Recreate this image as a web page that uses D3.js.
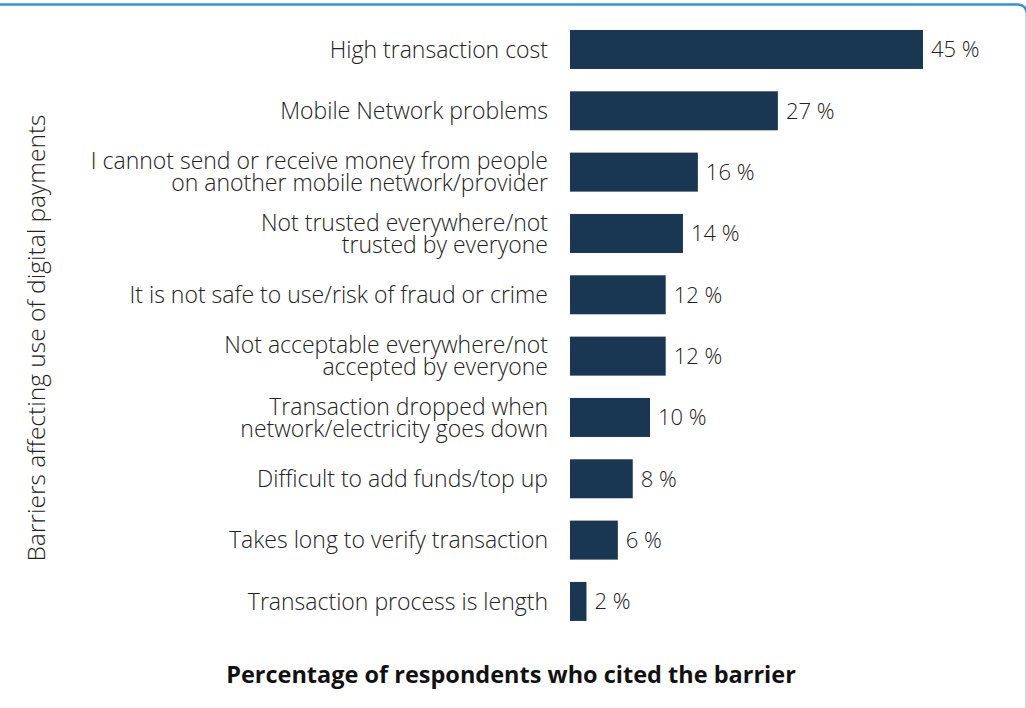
<!DOCTYPE html>
<html>
<head>
<meta charset="utf-8">
<script src="https://cdn.jsdelivr.net/npm/d3@7"></script>
<style>
html,body{margin:0;padding:0;background:#fff;}
svg{display:block;}
text{font-family:"Open Sans",sans-serif;}
</style>
</head>
<body>
<svg id="chart" width="1026" height="708"></svg>
<script>
const categories = [
  ["High transaction cost"],
  ["Mobile Network problems"],
  ["I cannot send or receive money from people", "on another mobile network/provider"],
  ["Not trusted everywhere/not", "trusted by everyone"],
  ["It is not safe to use/risk of fraud or crime"],
  ["Not acceptable everywhere/not", "accepted by everyone"],
  ["Transaction dropped when", "network/electricity goes down"],
  ["Difficult to add funds/top up"],
  ["Takes long to verify transaction"],
  ["Transaction process is length"]
];
const values = [45, 26.5, 16.3, 14.4, 12.2, 12.2, 10.2, 8.0, 6.1, 2.1];
const valueLabels = ["45 %", "27 %", "16 %", "14 %", "12 %", "12 %", "10 %", "8 %", "6 %", "2 %"];
const xTitle = "Percentage of respondents who cited the barrier";
const yTitle = "Barriers affecting use of digital payments";

const svg = d3.select("#chart");
const W = 1026, H = 708;

// frame border (rounded, top edge visible)
svg.append("rect")
  .attr("x", -12).attr("y", 4.5)
  .attr("width", W + 13).attr("height", H + 20)
  .attr("rx", 9)
  .attr("fill", "none")
  .attr("stroke", "#2f93dc")
  .attr("stroke-width", 2.6);

const ids = categories.map((c, i) => i);
const y = d3.scaleBand().domain(ids).range([18.8, 632.1]).paddingInner(0.364).paddingOuter(0.182);
const x = d3.scaleLinear().domain([0, 45]).range([570, 923]);

const g = svg.append("g");

g.selectAll("rect.bar").data(values).join("rect")
  .attr("class", "bar")
  .attr("x", x(0))
  .attr("y", (d, i) => y(i))
  .attr("width", d => x(d) - x(0))
  .attr("height", y.bandwidth())
  .attr("fill", "#193753");

g.selectAll("text.val").data(values).join("text")
  .attr("class", "val")
  .attr("x", d => x(d) + 8)
  .attr("y", (d, i) => y(i) + y.bandwidth() / 2)
  .attr("dy", "0.36em")
  .attr("font-size", 22)
  .attr("font-weight", 300)
  .attr("fill", "#222")
  .text((d, i) => valueLabels[i]);

const fs = 23;
const lineGap = 22;
const cat = g.selectAll("text.cat").data(categories).join("text")
  .attr("class", "cat")
  .attr("text-anchor", "end")
  .attr("font-size", fs)
  .attr("font-weight", 300)
  .attr("fill", "#222");
cat.each(function(d, i) {
  const t = d3.select(this);
  const n = d.length;
  const c = y(i) + y.bandwidth() / 2;
  d.forEach((line, j) => {
    t.append("tspan")
      .attr("x", 548)
      .attr("y", c + (j - (n - 1) / 2) * lineGap)
      .attr("dy", "0.36em")
      .text(line);
  });
});

svg.append("text")
  .attr("x", 511).attr("y", 675)
  .attr("dy", "0.36em")
  .attr("text-anchor", "middle")
  .attr("font-size", 23.5)
  .attr("font-weight", 700)
  .attr("fill", "#111")
  .text(xTitle);

svg.append("text")
  .attr("transform", "translate(36,338) rotate(-90)")
  .attr("dy", "0.36em")
  .attr("text-anchor", "middle")
  .attr("font-size", 24.5)
  .attr("font-weight", 300)
  .attr("fill", "#222")
  .text(yTitle);
</script>
</body>
</html>
